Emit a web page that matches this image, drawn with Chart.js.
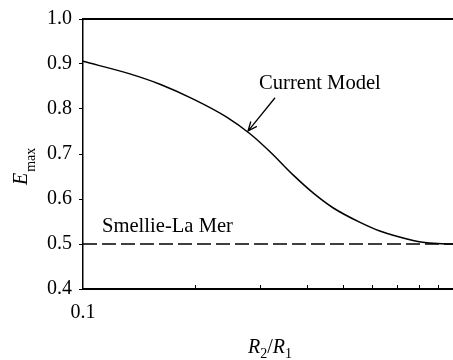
<!DOCTYPE html>
<html>
<head>
<meta charset="utf-8">
<script src="https://cdn.jsdelivr.net/npm/chart.js@4/dist/chart.umd.min.js"></script>
<style>
  html, body { margin: 0; padding: 0; background: #fff; }
  #wrap { width: 453px; height: 360px; position: relative; }
</style>
</head>
<body>
<div id="wrap"><canvas id="c" width="453" height="360"></canvas></div>
<script>
// ---- data ----
const ratioR = [0.1, 0.1337, 0.1611, 0.1981, 0.2436, 0.2814, 0.3186, 0.3681, 0.4168, 0.4717, 0.5566, 0.629, 0.773, 0.82, 0.9, 0.99];
const currentModel = [0.906, 0.878, 0.855, 0.822, 0.782, 0.745, 0.705, 0.653, 0.613, 0.580, 0.548, 0.529, 0.508, 0.504, 0.501, 0.500];
const smellieR = [0.1, 0.99];
const smellieLaMer = [0.5, 0.5];
const yTicks = [0.4, 0.5, 0.6, 0.7, 0.8, 0.9, 1.0];
const xTickLabels = [0.1];
const xMinorTicks = [0.2, 0.3, 0.4, 0.5, 0.6, 0.7, 0.8, 0.9];
const labelCurrent = "Current Model";
const labelSmellie = "Smellie-La Mer";

const FONT = "'Liberation Serif', 'Times New Roman', serif";

const decor = {
  id: 'decor',
  afterDraw(chart) {
    const ctx = chart.ctx;
    const a = chart.chartArea;
    const xs = chart.scales.x, ys = chart.scales.y;
    ctx.save();
    ctx.strokeStyle = '#000';
    ctx.fillStyle = '#000';
    // top frame line
    ctx.lineWidth = 2;
    ctx.beginPath();
    ctx.moveTo(a.left, a.top);
    ctx.lineTo(a.right, a.top);
    ctx.stroke();
    // minor ticks on log x axis (inside)
    ctx.lineWidth = 1;
    xMinorTicks.forEach(v => {
      const px = Math.round(xs.getPixelForValue(v)) + 0.5;
      ctx.beginPath();
      ctx.moveTo(px, a.bottom);
      ctx.lineTo(px, a.bottom - 4);
      ctx.stroke();
    });
    // annotations
    ctx.font = '20.6px ' + FONT;
    ctx.textBaseline = 'alphabetic';
    ctx.textAlign = 'left';
    ctx.fillText(labelCurrent, xs.getPixelForValue(0.2976), ys.getPixelForValue(0.845));
    ctx.fillText(labelSmellie, xs.getPixelForValue(0.1125), ys.getPixelForValue(0.526));
    // arrow
    const x0 = xs.getPixelForValue(0.3287), y0 = ys.getPixelForValue(0.825);
    const x1 = xs.getPixelForValue(0.278), y1 = ys.getPixelForValue(0.751);
    ctx.lineWidth = 1.3;
    ctx.beginPath();
    ctx.moveTo(x0, y0);
    ctx.lineTo(x1, y1);
    const ang = Math.atan2(y1 - y0, x1 - x0);
    const hl = 10, ha = 0.4;
    ctx.moveTo(x1 - hl * Math.cos(ang - ha), y1 - hl * Math.sin(ang - ha));
    ctx.lineTo(x1, y1);
    ctx.lineTo(x1 - hl * Math.cos(ang + ha), y1 - hl * Math.sin(ang + ha));
    ctx.stroke();
    // x axis title R2/R1
    const parts = [
      {t: 'R', f: 'italic 20px ' + FONT, dy: 0},
      {t: '2', f: '14px ' + FONT, dy: 5},
      {t: '/', f: '20px ' + FONT, dy: 0},
      {t: 'R', f: 'italic 20px ' + FONT, dy: 0},
      {t: '1', f: '14px ' + FONT, dy: 5}
    ];
    let w = 0;
    parts.forEach(p => { ctx.font = p.f; p.w = ctx.measureText(p.t).width; w += p.w; });
    let cx = (a.left + a.right) / 2 + 2 - w / 2;
    const by = 353;
    parts.forEach(p => { ctx.font = p.f; ctx.fillText(p.t, cx, by + p.dy); cx += p.w; });
    // y axis title E_max
    ctx.translate(27, 185);
    ctx.rotate(-Math.PI / 2);
    ctx.font = 'italic 20px ' + FONT;
    ctx.fillText('E', 0, 0);
    const ew = ctx.measureText('E').width;
    ctx.font = '14px ' + FONT;
    ctx.fillText('max', ew + 1, 8);
    ctx.restore();
  }
};

new Chart(document.getElementById('c'), {
  type: 'line',
  data: {
    datasets: [
      {
        label: labelCurrent,
        data: ratioR.map((r, i) => ({x: r, y: currentModel[i]})),
        borderColor: '#000',
        borderWidth: 1.5,
        pointRadius: 0,
        cubicInterpolationMode: 'monotone',
        fill: false
      },
      {
        label: labelSmellie,
        data: smellieR.map((r, i) => ({x: r, y: smellieLaMer[i]})),
        borderColor: '#000',
        borderWidth: 1.5,
        borderDash: [14, 5],
        pointRadius: 0,
        fill: false
      }
    ]
  },
  options: {
    responsive: false,
    animation: false,
    devicePixelRatio: 1,
    layout: { padding: { top: 18, right: 0, bottom: 0, left: 0 } },
    plugins: { legend: { display: false }, tooltip: { enabled: false } },
    scales: {
      x: {
        type: 'logarithmic',
        min: 0.1,
        max: 0.99,
        afterFit(s) { s.height = 71; },
        afterBuildTicks(s) { s.ticks = xTickLabels.map(v => ({value: v})); },
        ticks: {
          color: '#000',
          font: { family: FONT, size: 20 },
          padding: 12,
          maxRotation: 0,
          callback: v => v.toFixed(1)
        },
        grid: { display: false, drawTicks: false },
        border: { display: true, color: '#000', width: 2 }
      },
      y: {
        min: 0.4,
        max: 1.0,
        afterFit(s) { s.width = 83; },
        afterBuildTicks(s) { s.ticks = yTicks.map(v => ({value: v})); },
        ticks: {
          color: '#000',
          font: { family: FONT, size: 20 },
          padding: 7,
          callback: v => Number(v).toFixed(1)
        },
        grid: { drawOnChartArea: false, drawTicks: true, tickLength: 4, color: '#000', lineWidth: 1 },
        border: { display: true, color: '#000', width: 1.5 }
      }
    }
  },
  plugins: [decor]
});
</script>
</body>
</html>
